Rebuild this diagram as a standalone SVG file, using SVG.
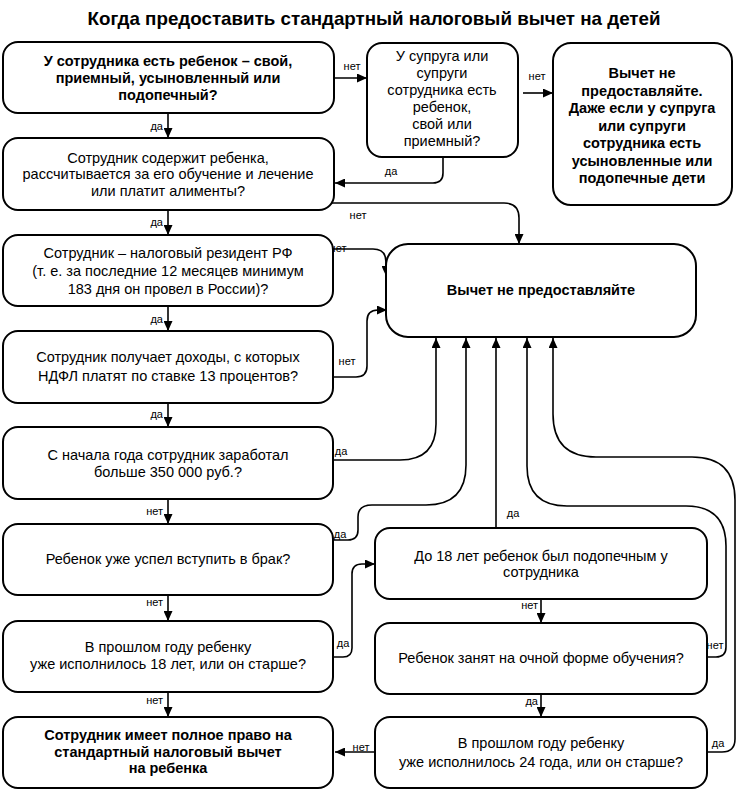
<svg xmlns="http://www.w3.org/2000/svg" width="739" height="790" viewBox="0 0 739 790">
<defs>
<marker id="ah" markerUnits="userSpaceOnUse" markerWidth="10" markerHeight="9" refX="10" refY="4.5" orient="auto">
<path d="M0,0 L10,4.5 L0,9 z" fill="#000"/>
</marker>
<style>
.box{fill:#fff;stroke:#000;stroke-width:2}
.t{font-family:"Liberation Sans",Arial,sans-serif;font-size:14.5px;fill:#000;text-anchor:middle}
.b{font-weight:bold}
.c{fill:none;stroke:#000;stroke-width:1.6;marker-end:url(#ah)}
.l{font-family:"Liberation Sans",Arial,sans-serif;font-size:11px;fill:#000}
.m{text-anchor:middle}
.e{text-anchor:end}
</style>
</defs>
<rect width="739" height="790" fill="#fff"/>
<text x="374" y="25" font-family="Liberation Sans,Arial,sans-serif" font-size="19" font-weight="bold" text-anchor="middle" textLength="573" lengthAdjust="spacingAndGlyphs">Когда предоставить стандартный налоговый вычет на детей</text>

<g id="connectors">
<path class="c" d="M334,78 H367"/>
<path class="c" d="M523,93 H553"/>
<path class="c" d="M443,157 V173 Q443,183 433,183 H335"/>
<path class="c" d="M320,203 H504 Q519,203 519,218 V244"/>
<path class="c" d="M330,249 H373 Q386,249 386,262 V276"/>
<path class="c" d="M333,377 H356 Q367,377 367,366 V321 Q367,310 378,310 H387"/>
<path class="c" d="M333,460 H400 Q436,460 436,424 V338"/>
<path class="c" d="M333,540 H348 Q358,540 358,530 V517 Q358,505 372,505 H426 Q466,505 466,465 V338"/>
<path class="c" d="M496,528 V338"/>
<path class="c" d="M707,657 H716 Q726,657 726,647 V546 Q726,506 686,506 H567 Q527,506 527,466 V338"/>
<path class="c" d="M707,752 H722 Q735,752 735,739 V500 Q735,457 692,457 H596 Q553,457 553,414 V338"/>
<path class="c" d="M375,752 H335"/>
<path class="c" d="M333,657 H343 Q352,657 352,648 V574 Q352,564 362,564 H375"/>
<path class="c" d="M168,113 V138"/>
<path class="c" d="M168,210 V235"/>
<path class="c" d="M168,306 V331"/>
<path class="c" d="M168,403 V427"/>
<path class="c" d="M168,499 V524"/>
<path class="c" d="M168,595 V621"/>
<path class="c" d="M168,692 V717"/>
<path class="c" d="M541,599 V623"/>
<path class="c" d="M541,694 V717"/>
<text class="l e" x="163" y="130">да</text>
<text class="l e" x="163" y="226">да</text>
<text class="l e" x="163" y="323">да</text>
<text class="l e" x="163" y="418">да</text>
<text class="l e" x="163" y="515">нет</text>
<text class="l e" x="163" y="606">нет</text>
<text class="l e" x="163" y="704">нет</text>
<text class="l m" x="352" y="70">нет</text>
<text class="l m" x="537" y="80">нет</text>
<text class="l m" x="391" y="175">да</text>
<text class="l m" x="358" y="219">нет</text>
<text class="l m" x="338" y="252">нет</text>
<text class="l m" x="347" y="365">нет</text>
<text class="l m" x="341" y="455">да</text>
<text class="l m" x="340" y="538">да</text>
<text class="l m" x="513" y="517">да</text>
<text class="l m" x="343" y="647">да</text>
<text class="l e" x="538" y="609">нет</text>
<text class="l e" x="538" y="705">да</text>
<text class="l m" x="715" y="649">нет</text>
<text class="l m" x="718" y="747">да</text>
<text class="l m" x="361" y="751">нет</text>
</g>

<g id="n1">
<rect class="box" x="3" y="42" width="331" height="71" rx="15"/>
<text class="t b"><tspan x="168" y="66">У сотрудника есть ребенок – свой,</tspan><tspan x="168" y="83">приемный, усыновленный или</tspan><tspan x="168" y="100">подопечный?</tspan></text>
</g>
<g id="n2">
<rect class="box" x="3" y="138" width="331" height="72" rx="15"/>
<text class="t"><tspan x="168" y="163">Сотрудник содержит ребенка,</tspan><tspan x="168" y="179">рассчитывается за его обучение и лечение</tspan><tspan x="168" y="196">или платит алименты?</tspan></text>
</g>
<g id="n3">
<rect class="box" x="367" y="43" width="151" height="114" rx="15"/>
<text class="t"><tspan x="442" y="61">У супруга или</tspan><tspan x="442" y="78">супруги</tspan><tspan x="442" y="95">сотрудника есть</tspan><tspan x="442" y="112">ребенок,</tspan><tspan x="442" y="129">свой или</tspan><tspan x="442" y="146">приемный?</tspan></text>
</g>
<g id="n4">
<rect class="box" x="553" y="43" width="179" height="162" rx="18"/>
<text class="t b"><tspan x="642" y="78">Вычет не</tspan><tspan x="642" y="95.5">предоставляйте.</tspan><tspan x="642" y="113">Даже если у супруга</tspan><tspan x="642" y="130.5">или супруги</tspan><tspan x="642" y="148">сотрудника есть</tspan><tspan x="642" y="165.5">усыновленные или</tspan><tspan x="642" y="183">подопечные дети</tspan></text>
</g>
<g id="n5">
<rect class="box" x="386" y="244" width="310" height="93" rx="22"/>
<text class="t b" x="541" y="295">Вычет не предоставляйте</text>
</g>
<g id="n6">
<rect class="box" x="3" y="235" width="330" height="71" rx="15"/>
<text class="t"><tspan x="168" y="258">Сотрудник – налоговый резидент РФ</tspan><tspan x="168" y="276">(т. е. за последние 12 месяцев минимум</tspan><tspan x="168" y="294">183 дня он провел в России)?</tspan></text>
</g>
<g id="n7">
<rect class="box" x="3" y="331" width="330" height="72" rx="15"/>
<text class="t"><tspan x="168" y="362">Сотрудник получает доходы, с которых</tspan><tspan x="168" y="381">НДФЛ платят по ставке 13 процентов?</tspan></text>
</g>
<g id="n8">
<rect class="box" x="3" y="427" width="330" height="72" rx="15"/>
<text class="t"><tspan x="168" y="460">С начала года сотрудник заработал</tspan><tspan x="168" y="477">больше 350 000 руб.?</tspan></text>
</g>
<g id="n9">
<rect class="box" x="3" y="524" width="330" height="71" rx="15"/>
<text class="t" x="168" y="564">Ребенок уже успел вступить в брак?</text>
</g>
<g id="n10">
<rect class="box" x="375" y="528" width="332" height="71" rx="15"/>
<text class="t"><tspan x="541" y="561">До 18 лет ребенок был подопечным у</tspan><tspan x="541" y="577">сотрудника</tspan></text>
</g>
<g id="n11">
<rect class="box" x="375" y="623" width="332" height="71" rx="15"/>
<text class="t" x="541" y="663">Ребенок занят на очной форме обучения?</text>
</g>
<g id="n12">
<rect class="box" x="375" y="717" width="332" height="71" rx="15"/>
<text class="t"><tspan x="541" y="748">В прошлом году ребенку</tspan><tspan x="541" y="767">уже исполнилось 24 года, или он старше?</tspan></text>
</g>
<g id="n13">
<rect class="box" x="3" y="717" width="330" height="71" rx="15"/>
<text class="t b"><tspan x="168" y="740">Сотрудник имеет полное право на</tspan><tspan x="168" y="757">стандартный налоговый вычет</tspan><tspan x="168" y="773">на ребенка</tspan></text>
</g>
<g id="n14">
<rect class="box" x="3" y="621" width="330" height="71" rx="15"/>
<text class="t"><tspan x="168" y="652">В прошлом году ребенку</tspan><tspan x="168" y="669">уже исполнилось 18 лет, или он старше?</tspan></text>
</g>
</svg>
